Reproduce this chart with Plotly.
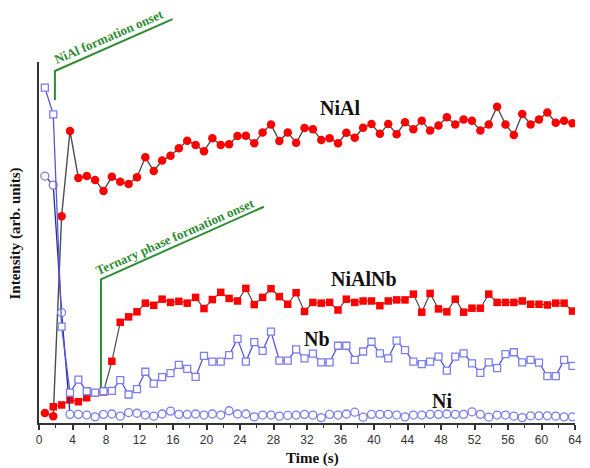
import plotly.graph_objects as go

# Sampling times (s)
time_s = [0.7, 1.7, 2.7, 3.7, 4.7, 5.7, 6.7, 7.7, 8.7, 9.7, 10.7, 11.7, 12.7, 13.7, 14.7, 15.7,
          16.7, 17.7, 18.7, 19.7, 20.7, 21.7, 22.7, 23.7, 24.7, 25.7, 26.7, 27.7, 28.7, 29.7, 30.7, 31.7,
          32.7, 33.7, 34.7, 35.7, 36.7, 37.7, 38.7, 39.7, 40.7, 41.7, 42.7, 43.7, 44.7, 45.7, 46.7, 47.7,
          48.7, 49.7, 50.7, 51.7, 52.7, 53.7, 54.7, 55.7, 56.7, 57.7, 58.7, 59.7, 60.7, 61.7, 62.7, 63.7]

# Peak intensities (arb. units)
nial = [2.8, 1.9, 57.3, 80.9, 67.9, 68.4, 67.3, 64.3, 68.2, 66.8, 66.2, 68.1, 73.6, 69.8, 72.7, 74.0,
        76.1, 78.2, 77.0, 75.3, 78.9, 77.0, 77.2, 79.5, 79.6, 77.5, 80.5, 82.7, 78.1, 80.5, 77.6, 81.7,
        81.4, 78.4, 78.9, 77.5, 80.4, 79.0, 81.8, 82.8, 80.1, 82.8, 80.0, 83.3, 81.4, 83.7, 81.0, 82.4,
        84.7, 82.7, 84.1, 83.7, 81.0, 82.7, 87.6, 82.7, 79.8, 85.6, 82.7, 84.1, 86.0, 83.2, 83.7, 83.0]

nialnb = [None, 4.5, 5.0, 6.4, 5.9, 7.0, 8.3, 8.6, 17.1, 27.9, 29.4, 30.8, 33.2, 32.6, 34.3, 33.4,
          33.7, 33.2, 34.8, 31.7, 34.2, 36.2, 34.5, 33.8, 37.3, 32.8, 34.8, 37.2, 35.0, 32.9, 36.1, 30.9,
          33.4, 33.2, 33.4, 31.3, 34.3, 33.4, 33.8, 33.8, 32.5, 33.8, 34.1, 34.1, 35.7, 30.7, 35.9, 31.6,
          30.8, 34.3, 30.7, 31.8, 31.8, 35.7, 33.4, 33.4, 33.4, 33.8, 32.9, 32.9, 32.7, 33.2, 33.2, 31.0]

nb = [92.9, 85.5, 26.7, 8.4, 12.0, 8.8, 8.4, 8.8, 8.9, 11.9, 7.9, 9.4, 14.2, 10.9, 12.7, 13.8,
      16.1, 15.0, 12.8, 18.6, 17.0, 17.0, 18.8, 23.3, 17.0, 22.4, 20.0, 25.3, 17.3, 17.3, 20.4, 17.9,
      19.2, 16.8, 16.8, 21.4, 21.4, 17.5, 19.8, 22.5, 19.3, 17.9, 22.8, 20.2, 17.0, 16.3, 17.0, 18.4,
      14.5, 18.4, 19.3, 16.5, 13.9, 16.8, 15.2, 19.1, 19.6, 16.8, 17.5, 16.7, 13.0, 13.0, 17.5, 15.8]

ni = [68.4, 65.9, 30.6, 2.4, 2.4, 2.2, 1.7, 2.4, 2.5, 1.9, 2.9, 2.7, 2.2, 1.9, 2.5, 3.3,
      2.4, 2.4, 2.5, 2.2, 2.5, 2.2, 3.4, 2.5, 2.5, 1.7, 2.2, 2.2, 1.9, 2.1, 2.2, 2.4,
      2.2, 1.5, 2.4, 2.2, 2.5, 3.0, 1.6, 2.4, 2.4, 2.4, 2.2, 1.7, 2.2, 2.2, 2.4, 2.4,
      2.5, 2.4, 2.4, 3.1, 2.4, 1.6, 2.2, 2.2, 1.9, 1.5, 2.0, 2.0, 2.0, 1.9, 1.7, 1.7]

x_ticks = list(range(0, 65, 4))

# Onset markers: (time, bottom of the vertical leg, top of the leg, end time, end height)
nial_onset = dict(t=1.9, y0=89.5, y1=97.5, t_end=15.95, y_end=111.9)
ternary_onset = dict(t=7.4, y0=10.0, y1=39.8, t_end=26.85, y_end=59.9)

Y_TOP = 100.0
RED = "#ff0000"
GREY = "#4d4d4d"
LAVENDER = "#7d7deb"
GREEN = "#2f8c34"
SERIF = "Liberation Serif"


def label(fig, text, x, y, xref="x", yref="paper", angle=0, size=20, color="#111111"):
    fig.add_annotation(x=x, y=y, xref=xref, yref=yref, text=f"<b>{text}</b>",
                       showarrow=False, textangle=angle, xanchor="center", yanchor="middle",
                       font=dict(family=SERIF, size=size, color=color))


fig = go.Figure()

fig.add_trace(go.Scatter(
    x=time_s, y=nial, mode="lines+markers", name="NiAl",
    line=dict(color=GREY, width=1.4),
    marker=dict(symbol="circle", size=8.5, color=RED, line=dict(width=0)),
))
fig.add_trace(go.Scatter(
    x=time_s, y=nialnb, mode="lines+markers", name="NiAlNb",
    line=dict(color=GREY, width=1.2),
    marker=dict(symbol="square", size=7.5, color=RED, line=dict(width=0)),
))
fig.add_trace(go.Scatter(
    x=time_s, y=ni, mode="lines+markers", name="Ni",
    line=dict(color="#2c2c90", width=1.3),
    marker=dict(symbol="circle", size=8, color="white", line=dict(color=LAVENDER, width=1.3)),
))
fig.add_trace(go.Scatter(
    x=time_s, y=nb, mode="lines+markers", name="Nb",
    line=dict(color="#5656e0", width=1.3),
    marker=dict(symbol="square", size=7, color="white", line=dict(color=LAVENDER, width=1.3)),
))

# Green onset brackets: vertical leg then a slanted leader carrying the label
for o in (nial_onset, ternary_onset):
    fig.add_shape(type="path", xref="x", yref="paper",
                  path=f"M {o['t']},{o['y0']/Y_TOP} L {o['t']},{o['y1']/Y_TOP} L {o['t_end']},{o['y_end']/Y_TOP}",
                  line=dict(color=GREEN, width=2))

label(fig, "NiAl formation onset", 8.35, 107.1 / Y_TOP, angle=-23.5, size=13, color=GREEN)
label(fig, "Ternary phase formation onset", 16.25, 51.8 / Y_TOP, angle=-23.7, size=13, color=GREEN)

# Series labels
for name, tx, ty in [("NiAl", 35.9, 87.2), ("NiAlNb", 38.8, 39.9), ("Nb", 33.2, 23.2), ("Ni", 48.15, 6.0)]:
    label(fig, name, tx, ty / Y_TOP)

# Axis titles
label(fig, "Time (s)", 0.51, -0.097, xref="paper", size=15)
label(fig, "Intensity (arb. units)", -0.044, 0.526, xref="paper", angle=-90, size=15)

fig.update_layout(
    width=590, height=468,
    margin=dict(l=39, r=8, t=62, b=45),
    paper_bgcolor="white", plot_bgcolor="white",
    showlegend=False,
    xaxis=dict(
        range=[0, 64], tickvals=x_ticks, ticktext=[str(v) for v in x_ticks],
        ticks="outside", ticklen=5, tickwidth=1.5, tickcolor="#333333",
        showline=True, linecolor="#333333", linewidth=1.5,
        showgrid=False, zeroline=False,
        tickfont=dict(family="Liberation Sans", size=12, color="#333333"),
        minor=dict(dtick=2, tick0=0, ticks="outside", ticklen=3, tickwidth=1.2, tickcolor="#333333"),
    ),
    yaxis=dict(
        range=[0, Y_TOP], showticklabels=False, ticks="",
        showline=True, linecolor="#333333", linewidth=1.5,
        showgrid=False, zeroline=False,
    ),
)

fig.write_html("out.html")
